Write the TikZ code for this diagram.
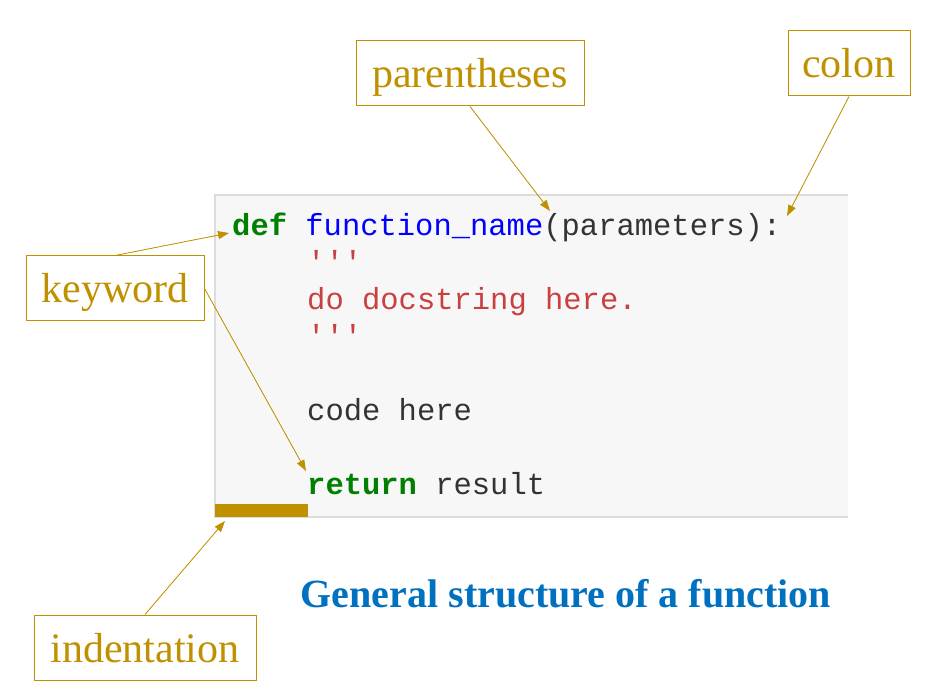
\documentclass[tikz,border=0pt]{standalone}
\usepackage{fontspec}
\setmainfont{Liberation Serif}
\setmonofont{Liberation Mono}
\usetikzlibrary{arrows.meta}
\definecolor{gold}{HTML}{BF9000}
\definecolor{panelfill}{HTML}{F7F7F7}
\definecolor{panelline}{HTML}{DCDCDC}
\definecolor{kwgreen}{HTML}{008000}
\definecolor{fnblue}{HTML}{0000FF}
\definecolor{strred}{HTML}{C8403F}
\definecolor{codetext}{HTML}{333333}
\definecolor{titleblue}{HTML}{0070C0}
\tikzset{
  labelbox/.style={draw=gold, line width=1pt, text=gold, inner sep=0pt,
    font=\fontsize{42}{50}\selectfont, minimum height=65pt, text depth=0pt, text height=0pt},
  codeline/.style={anchor=base west, inner sep=0pt, text=codetext,
    font=\ttfamily\fontsize{30.5}{36}\selectfont},
  callout/.style={draw=gold, line width=0.8pt, -{Triangle[length=11pt,width=8pt]}, fill=gold}
}
\begin{document}
\begin{tikzpicture}[x=1pt,y=-1pt]
\useasboundingbox (0,0) rectangle (943,692);
% code panel
\fill[panelfill] (215,195) rectangle (848,517);
\draw[panelline, line width=1.5pt] (848,195) -- (215,195) -- (215,517) -- (848,517);
\fill[gold] (215,504) rectangle (308,517);
% code lines
\node[codeline] (defline) at (232,236) {\textcolor{kwgreen}{\textbf{def}} \textcolor{fnblue}{function\_name}(parameters):};
\node[codeline, text=strred] (q1) at (307,273) {'{}'{}'};
\node[codeline, text=strred] (doc) at (307,310) {do docstring here.};
\node[codeline, text=strred] (q2) at (307,347) {'{}'{}'};
\node[codeline] (code) at (307,421) {code here};
\node[codeline] (ret) at (307,495) {\textcolor{kwgreen}{\textbf{return}} result};
% target coordinates
\coordinate (defpt) at (229,233);
\coordinate (parpt) at (550,211);
\coordinate (colpt) at (787,216);
\coordinate (retpt) at (306,471);
\coordinate (indpt) at (225,521);
% labels (boxes)
\node[draw=gold, line width=1pt, minimum width=228pt, minimum height=65pt, inner sep=0pt] (par) at (470,73.5) {};
\node[draw=gold, line width=1pt, minimum width=122pt, minimum height=65pt, inner sep=0pt] (col) at (849,63.5) {};
\node[draw=gold, line width=1pt, minimum width=178pt, minimum height=65pt, inner sep=0pt] (kw) at (115,288.5) {};
\node[draw=gold, line width=1pt, minimum width=222pt, minimum height=65pt, inner sep=0pt] (ind) at (145,647.5) {};
% label texts
\tikzset{labeltext/.style={anchor=base, inner sep=0pt, text=gold, font=\fontsize{42}{50}\selectfont}}
\node[labeltext] (partext) at (470,88) {parentheses};
\node[labeltext] (coltext) at (849,78) {colon};
\node[labeltext] (kwtext) at (115,303) {keyword};
\node[labeltext] (indtext) at (145,662) {indentation};
% callouts
\draw[callout] (kw.north) -- (defpt);
\draw[callout] (kw.east) -- (retpt);
\draw[callout] (par.south) -- (parpt);
\draw[callout] (col.south) -- (colpt);
\draw[callout] (ind.north) -- (indpt);
% title
\node[anchor=base, inner sep=0pt, text=titleblue, font=\bfseries\fontsize{40}{47}\selectfont] (title) at (566,607) {General structure of a function};
\end{tikzpicture}
\end{document}
